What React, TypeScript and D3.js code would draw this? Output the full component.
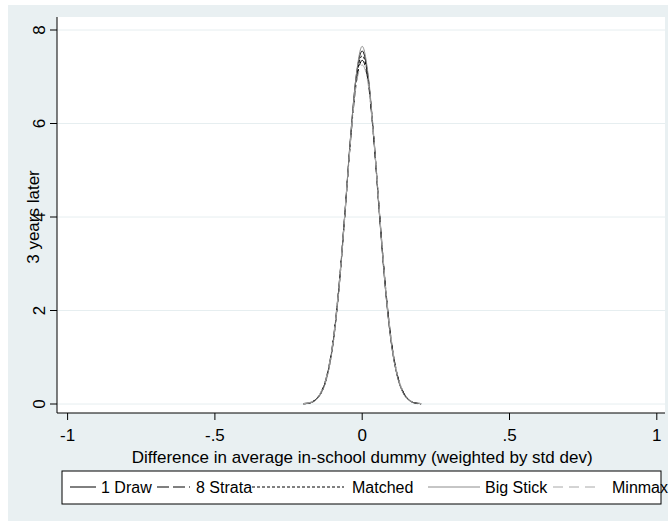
import * as d3 from 'd3';
import React from 'react';

// density grid (difference, weighted by std dev)
const xGrid = [-0.2, -0.18, -0.16, -0.14, -0.12, -0.1, -0.08, -0.06, -0.04, -0.02, 0, 0.02, 0.04, 0.06, 0.08, 0.1, 0.12, 0.14, 0.16, 0.18, 0.2];

const oneDraw = [0.01, 0.02, 0.08, 0.24, 0.59, 1.27, 2.42, 3.98, 5.68, 7.03, 7.55, 7.0, 5.62, 3.92, 2.38, 1.25, 0.58, 0.23, 0.08, 0.02, 0.01];
const eightStrata = [0.01, 0.02, 0.09, 0.25, 0.61, 1.3, 2.45, 3.98, 5.6, 6.88, 7.35, 6.9, 5.62, 3.98, 2.45, 1.3, 0.61, 0.25, 0.09, 0.02, 0.01];
const matched = [0, 0.02, 0.08, 0.22, 0.57, 1.24, 2.38, 3.93, 5.62, 6.95, 7.45, 6.97, 5.66, 3.98, 2.43, 1.28, 0.59, 0.24, 0.08, 0.02, 0];
const bigStick = [0.01, 0.02, 0.07, 0.22, 0.56, 1.23, 2.37, 3.94, 5.66, 7.04, 7.65, 7.05, 5.68, 3.96, 2.39, 1.24, 0.57, 0.22, 0.07, 0.02, 0.01];
const minmax = [0.01, 0.03, 0.09, 0.26, 0.62, 1.31, 2.46, 3.99, 5.58, 6.84, 7.25, 6.85, 5.6, 4.0, 2.47, 1.32, 0.62, 0.26, 0.09, 0.03, 0.01];

const seriesNames = ['1 Draw', '8 Strata', 'Matched', 'Big Stick', 'Minmax'];
const seriesValues = [oneDraw, eightStrata, matched, bigStick, minmax];

const xTicks = [-1, -0.5, 0, 0.5, 1];
const xTickLabels = ['-1', '-.5', '0', '.5', '1'];
const yTicks = [0, 2, 4, 6, 8];

const xTitle = 'Difference in average in-school dummy (weighted by std dev)';
const yTitle = '3 years later';

// styling per series
const styles = [
    { stroke: '#000', dash: null },
    { stroke: '#000', dash: '12,4' },
    { stroke: '#000', dash: '3,2' },
    { stroke: '#8c8c8c', dash: null },
    { stroke: '#a8a8a8', dash: '10,6' },
];
// legend key / label positions
const legendKeys = [[70, 96, 101], [157, 190, 196], [252, 344, 352], [428, 480, 485], [553, 600, 612]];

export default function App() {
    const width = 671;
    const height = 521;
    const font = '"Liberation Sans", Arial, sans-serif';

    const plot = { left: 57, top: 17, right: 665, bottom: 413 };

    const x = d3.scaleLinear().domain([-1, 1]).range([67.6, 656.8]);
    const y = d3.scaleLinear().domain([0, 8]).range([404, 30]);

    const line = d3.line<number>()
        .x((_, i) => x(xGrid[i]))
        .y(d => y(d))
        .curve(d3.curveMonotoneX);

    const legendY = 487;

    return (
        <svg width={width} height={height} style={{ position: 'absolute', left: 0, top: 0 }} fontFamily={font}>
            <rect x={0} y={0} width={width} height={height} fill="#fff" />
            <rect x={8} y={5} width={660} height={516} fill="#e9f0f2" />
            <rect x={plot.left} y={plot.top} width={plot.right - plot.left} height={plot.bottom - plot.top} fill="#fff" />

            {/* gridlines */}
            {yTicks.map(t => (
                <line key={'g' + t} x1={plot.left} x2={plot.right} y1={y(t)} y2={y(t)} stroke="#e6eef0" strokeWidth={1} />
            ))}

            {/* density curves */}
            {seriesValues.map((vals, i) => (
                <path key={seriesNames[i]} d={line(vals) || ''} fill="none"
                    stroke={styles[i].stroke} strokeWidth={1}
                    strokeDasharray={styles[i].dash || undefined} />
            ))}

            {/* y axis */}
            <line x1={plot.left} x2={plot.left} y1={plot.top} y2={plot.bottom} stroke="#000" />
            {yTicks.map(t => (
                <g key={'y' + t}>
                    <line x1={plot.left - 7} x2={plot.left} y1={y(t)} y2={y(t)} stroke="#000" />
                    <text transform={`translate(45,${y(t)}) rotate(-90)`} textAnchor="middle" fontSize={17}>{t}</text>
                </g>
            ))}
            <text transform={`translate(39,${(y(0) + y(8)) / 2}) rotate(-90)`} textAnchor="middle" fontSize={17}>{yTitle}</text>

            {/* x axis */}
            <line x1={plot.left} x2={plot.right} y1={plot.bottom} y2={plot.bottom} stroke="#000" />
            {xTicks.map((t, i) => (
                <g key={'x' + t}>
                    <line x1={x(t)} x2={x(t)} y1={plot.bottom} y2={plot.bottom + 7} stroke="#000" />
                    <text x={x(t)} y={441} textAnchor="middle" fontSize={17}>{xTickLabels[i]}</text>
                </g>
            ))}
            <text x={x(0)} y={463} textAnchor="middle" fontSize={17}>{xTitle}</text>

            {/* legend */}
            <rect x={62} y={471} width={599} height={33} fill="#fff" stroke="#000" strokeWidth={1} />
            {legendKeys.map((k, i) => (
                <g key={'l' + i}>
                    <line x1={k[0]} x2={k[1]} y1={legendY} y2={legendY} stroke={styles[i].stroke}
                        strokeDasharray={styles[i].dash || undefined} />
                    <text x={k[2]} y={legendY + 6} fontSize={16}>{seriesNames[i]}</text>
                </g>
            ))}
        </svg>
    );
}
